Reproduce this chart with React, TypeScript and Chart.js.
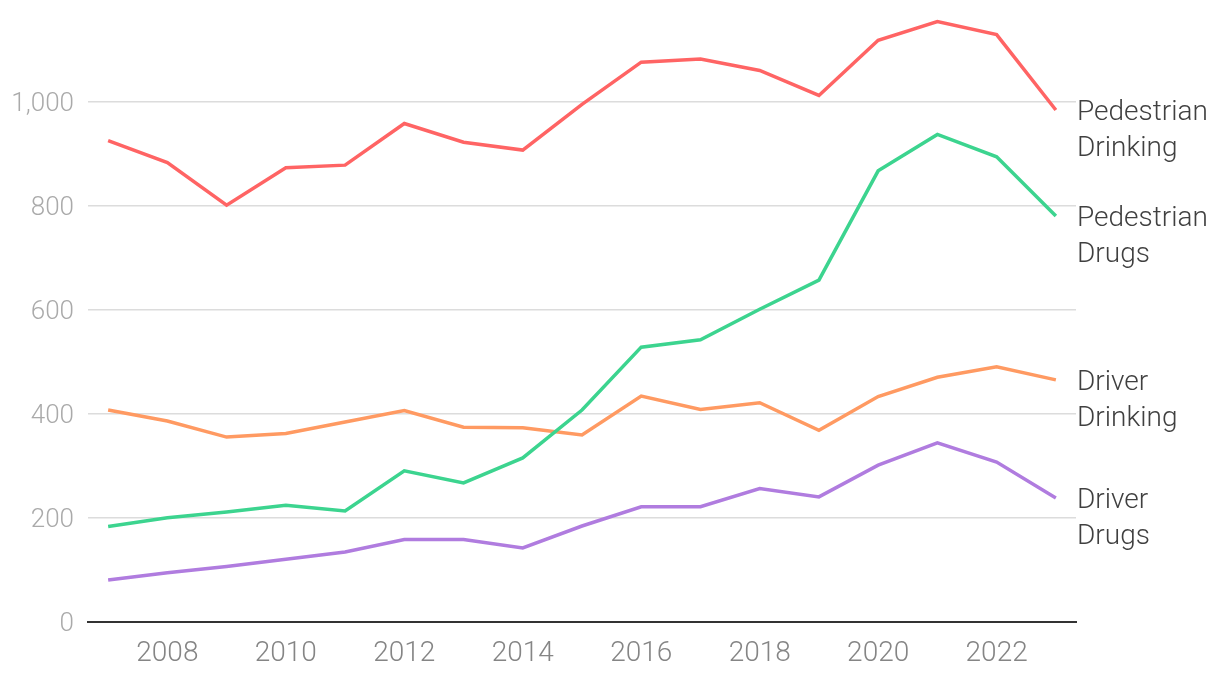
import React, { useEffect, useRef } from "react";
import { Chart, registerables } from "chart.js";

Chart.register(...registerables);

const years = [2007, 2008, 2009, 2010, 2011, 2012, 2013, 2014, 2015, 2016, 2017, 2018, 2019, 2020, 2021, 2022, 2023];
const pedestrianDrinking = [925, 883, 801, 873, 878, 958, 922, 907, 995, 1076, 1082, 1060, 1012, 1118, 1154, 1129, 984];
const pedestrianDrugs = [183, 200, 211, 224, 213, 290, 267, 315, 407, 528, 542, 601, 657, 867, 937, 894, 780];
const driverDrinking = [407, 386, 355, 362, 384, 406, 374, 373, 359, 434, 408, 421, 368, 433, 470, 490, 465];
const driverDrugs = [80, 94, 106, 120, 134, 158, 158, 142, 184, 221, 221, 256, 240, 301, 344, 307, 238];
const xTicks = [2008, 2010, 2012, 2014, 2016, 2018, 2020, 2022];
const yTicks = [0, 200, 400, 600, 800, 1000];
const seriesLabels = [
  ["Pedestrian", "Drinking"],
  ["Pedestrian", "Drugs"],
  ["Driver", "Drinking"],
  ["Driver", "Drugs"],
];
const seriesColors = ["#ff6464", "#3cd48f", "#ff9a62", "#b07cdf"];

const FONT = "Roboto, 'Liberation Sans', sans-serif";

const endLabels = {
  id: "endLabels",
  afterDatasetsDraw(chart: any) {
    const ctx = chart.ctx;
    const area = chart.chartArea;
    ctx.save();
    ctx.font = `300 28px ${FONT}`;
    ctx.fillStyle = "#404040";
    ctx.textAlign = "left";
    ctx.textBaseline = "middle";
    chart.data.datasets.forEach((ds: any, i: number) => {
      const meta = chart.getDatasetMeta(i);
      const pt = meta.data[meta.data.length - 1];
      const lines = seriesLabels[i];
      lines.forEach((t: string, j: number) => {
        ctx.fillText(t, area.right + 1, pt.y + 3 + j * 36);
      });
    });
    ctx.restore();
  },
};

export default function App() {
  const ref = useRef<HTMLCanvasElement>(null);
  useEffect(() => {
    if (!ref.current) return;
    const all = [pedestrianDrinking, pedestrianDrugs, driverDrinking, driverDrugs];
    const chart = new Chart(ref.current, {
      type: "line",
      data: {
        datasets: all.map((vals, i) => ({
          label: seriesLabels[i].join(" "),
          data: years.map((y, k) => ({ x: y, y: vals[k] })),
          borderColor: seriesColors[i],
          backgroundColor: seriesColors[i],
          borderWidth: 3.5,
          pointRadius: 0,
          tension: 0,
        })),
      },
      options: {
        animation: false,
        responsive: true,
        maintainAspectRatio: false,
        layout: { padding: { top: 13.3, right: 144, left: 0, bottom: 0 } },
        plugins: { legend: { display: false }, tooltip: { enabled: false } },
        scales: {
          x: {
            type: "linear",
            min: 2006.66,
            max: 2023.34,
            afterBuildTicks: (s: any) => {
              s.ticks = xTicks.map((v) => ({ value: v }));
            },
            afterFit: (s: any) => {
              s.height = 58.3;
              s.paddingLeft = 0;
              s.paddingRight = 0;
            },
            grid: { display: false, drawTicks: false },
            border: { display: true, color: "#333", width: 2 },
            ticks: {
              color: "#858585",
              font: { family: FONT, size: 28, weight: 300 },
              padding: 15,
              maxRotation: 0,
              autoSkip: false,
              callback: (v: any) => String(v),
            },
          },
          y: {
            min: 0,
            max: 1170,
            afterBuildTicks: (s: any) => {
              s.ticks = yTicks.map((v) => ({ value: v }));
            },
            afterFit: (s: any) => {
              s.width = 88;
              s.paddingTop = 0;
              s.paddingBottom = 0;
            },
            grid: {
              drawTicks: false,
              color: (c: any) => (c.tick && c.tick.value === 0 ? "#333" : "#dcdcdc"),
              lineWidth: (c: any) => (c.tick && c.tick.value === 0 ? 2 : 1.5),
            },
            border: { display: false },
            ticks: {
              color: "#aaaaaa",
              font: { family: FONT, size: 26, weight: 300 },
              padding: 14,
              labelOffset: 3,
              callback: (v: any) => Number(v).toLocaleString("en-US"),
            },
          },
        },
      },
      plugins: [endLabels],
    });
    return () => chart.destroy();
  }, []);
  return (
    <div style={{ position: "fixed", left: 0, top: 0, width: 1220, height: 680, background: "#fff" }}>
      <canvas ref={ref} />
    </div>
  );
}
